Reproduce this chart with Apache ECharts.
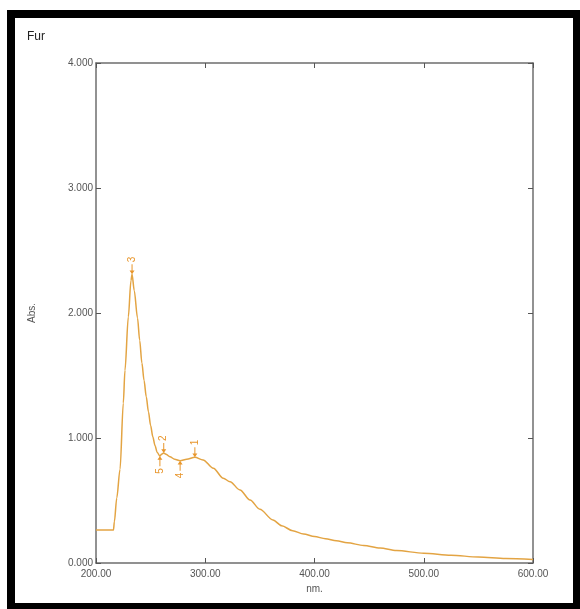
<!DOCTYPE html>
<html>
<head>
<meta charset="utf-8">
<title>Fur</title>
<script src="https://cdn.jsdelivr.net/npm/echarts@6/dist/echarts.min.js"></script>
<style>
  html, body { margin: 0; padding: 0; background: #fff; }
  #chart { width: 580px; height: 609px; }
</style>
</head>
<body>
<div id="chart"></div>
<script>
  // spectrum (nm / Abs.)
  var wavelength = [200, 216, 216.8, 219, 222, 225, 226.5, 229.6, 232, 233, 235, 238, 240, 242, 244,
    246, 248, 250, 252, 254, 256, 258.5, 260, 262, 264, 267.7, 272, 277, 283, 290.5, 298, 307.4, 316.5, 322.7,
    331.8, 341, 350, 362, 370, 380, 390, 400, 410, 420, 430, 445, 460, 475, 500, 525, 550, 575, 600];
  var absorbance = [0.264, 0.264, 0.33, 0.52, 0.75, 1.28, 1.54, 1.97, 2.26, 2.31, 2.18, 1.96, 1.78, 1.60, 1.46,
    1.33, 1.21, 1.10, 1.01, 0.94, 0.885, 0.855, 0.87, 0.88, 0.87, 0.85, 0.83, 0.818, 0.83, 0.846, 0.825, 0.758,
    0.678, 0.65, 0.584, 0.504, 0.43, 0.344, 0.298, 0.258, 0.232, 0.212, 0.194, 0.178, 0.162, 0.14, 0.12,
    0.1, 0.078, 0.062, 0.048, 0.036, 0.028];

  // peak pick table
  var peakNo = ['1', '2', '3', '4', '5'];
  var peakNm = [290.5, 262, 233, 277, 258.5];
  var peakAbs = [0.846, 0.88, 2.31, 0.818, 0.855];
  var peakValley = [false, false, false, true, true];

  var xMin = 200, xMax = 600, xStep = 100;
  var yMin = 0, yMax = 4, yStep = 1;

  var lineColor = '#e3a443';
  var markColor = '#e8962c';
  var axisColor = '#6e6e6e';
  var font = 'Liberation Sans, Arial, sans-serif';

  var arrow = 'path://M2,0 L3,0 L3,7 L5,7 L2.5,11 L0,7 L2,7 Z';

  var series = [];
  for (var i = 0; i < wavelength.length; i++) {
    series.push([wavelength[i], absorbance[i]]);
  }

  var marks = peakNo.map(function (n, i) {
    var down = !peakValley[i];
    return {
      name: n,
      coord: [peakNm[i], peakAbs[i]],
      symbol: arrow,
      symbolSize: [5, 10],
      symbolRotate: down ? 0 : 180,
      symbolOffset: [0, down ? -5 : 5],
      label: {
        show: true,
        formatter: '{b}',
        position: down ? 'top' : 'bottom',
        distance: 2,
        rotate: 90,
        align: down ? 'left' : 'right',
        verticalAlign: 'middle',
        color: markColor,
        fontSize: 10,
        fontFamily: font
      }
    };
  });

  var chart = echarts.init(document.getElementById('chart'));

  function mkX(pos, labels) {
    return {
      type: 'value',
      position: pos,
      min: xMin, max: xMax, interval: xStep,
      name: labels ? 'nm.' : '',
      nameLocation: 'middle',
      nameGap: 21,
      nameTextStyle: { color: '#555', fontSize: 10, fontFamily: font },
      axisLine: { show: true, onZero: false, lineStyle: { color: axisColor, width: 1.5 } },
      axisTick: { show: true, inside: true, length: 5, lineStyle: { color: '#555', width: 1 } },
      axisLabel: {
        show: labels, margin: 6, color: '#555', fontSize: 10, fontFamily: font,
        formatter: function (v) { return v.toFixed(2); }
      },
      splitLine: { show: false }
    };
  }
  function mkY(pos, labels) {
    return {
      type: 'value',
      position: pos,
      min: yMin, max: yMax, interval: yStep,
      name: labels ? 'Abs.' : '',
      nameLocation: 'middle',
      nameRotate: 90,
      nameGap: 59,
      nameTextStyle: { color: '#555', fontSize: 10, fontFamily: font },
      axisLine: { show: true, onZero: false, lineStyle: { color: axisColor, width: 1.5 } },
      axisTick: { show: true, inside: true, length: 5, lineStyle: { color: '#555', width: 1 } },
      axisLabel: {
        show: labels, margin: 3, color: '#555', fontSize: 10, fontFamily: font,
        formatter: function (v) { return v.toFixed(3); }
      },
      splitLine: { show: false }
    };
  }

  chart.setOption({
    backgroundColor: '#fff',
    animation: false,
    graphic: [
      {
        type: 'rect',
        shape: { x: 11, y: 14, width: 566, height: 593 },
        style: { fill: 'none', stroke: '#000', lineWidth: 8 }
      },
      {
        type: 'text',
        left: 27, top: 31,
        style: { text: 'Fur', fill: '#222', fontSize: 12, fontFamily: font }
      }
    ],
    grid: { left: 96, top: 63, right: 47, bottom: 46, containLabel: false, outerBoundsMode: 'none' },
    xAxis: [mkX('bottom', true), mkX('top', false)],
    yAxis: [mkY('left', true), mkY('right', false)],
    series: [{
      type: 'line',
      data: series,
      xAxisIndex: 0,
      yAxisIndex: 0,
      showSymbol: false,
      smooth: 0.3,
      smoothMonotone: 'x',
      lineStyle: { color: lineColor, width: 1.5 },
      itemStyle: { color: lineColor },
      markPoint: {
        silent: true,
        itemStyle: { color: markColor },
        data: marks
      }
    }]
  });
</script>
</body>
</html>
